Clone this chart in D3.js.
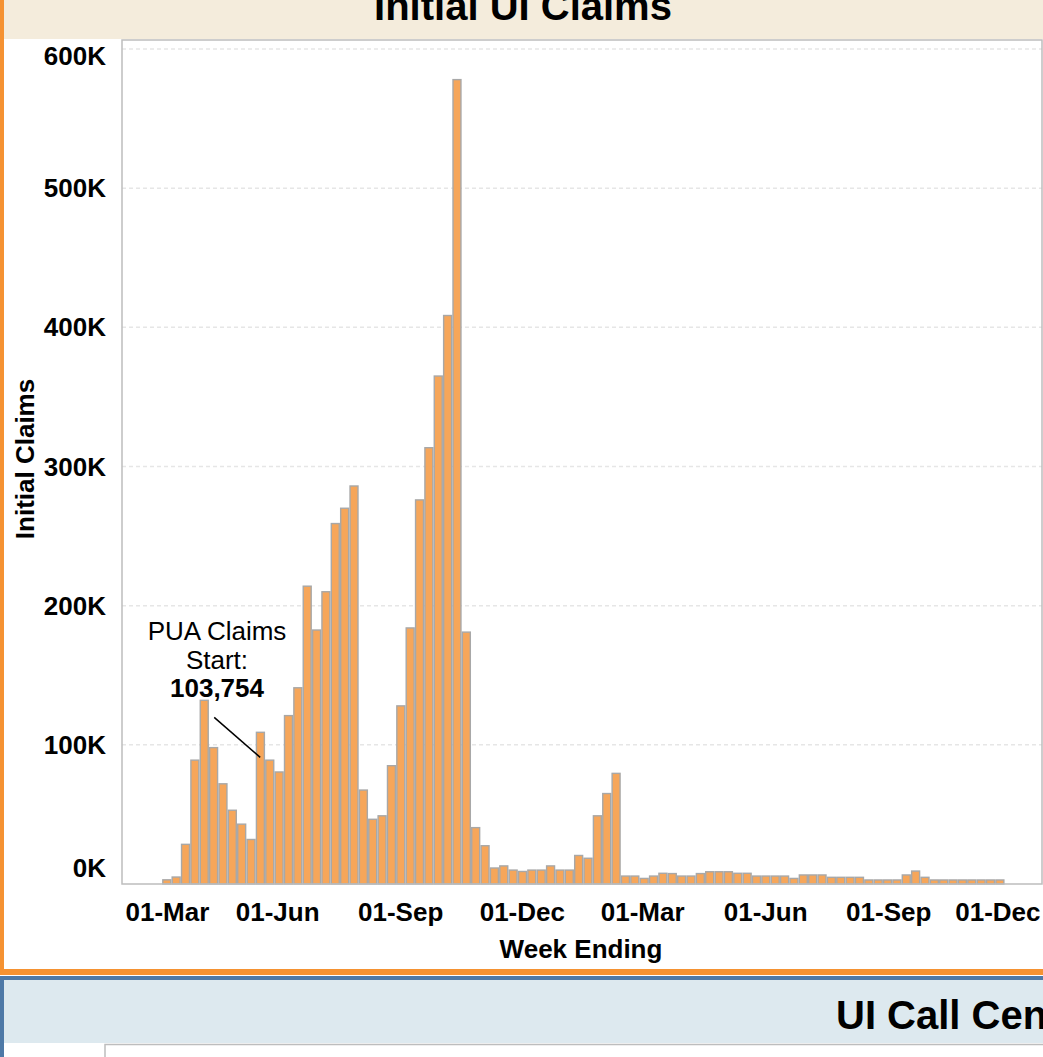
<!DOCTYPE html>
<html>
<head>
<meta charset="utf-8">
<script src="https://cdn.jsdelivr.net/npm/d3@7"></script>
<style>
  body { margin: 0; background: #fff; overflow: hidden; }
  text { font-family: "Liberation Sans", Arial, sans-serif; }
</style>
</head>
<body>
<div id="chart"></div>
<script>
// weeks (week ending saturday) from 07-Mar-2020 to 20-Nov-2021
const weekEnding = d3.timeSaturday.range(new Date(2020, 2, 7), new Date(2021, 10, 21));

// initial UI claims per week
const claims = [
  3000, 5000, 28500, 89000, 132000, 98000, 72000, 53000, 43000, 32000,
  109000, 89000, 80500, 121000, 141000, 214000, 182500, 210000, 259000, 270000,
  286000, 67500, 46500, 49000, 85000, 128000, 184000, 276000, 313500, 365000,
  408500, 578000, 181000, 40500, 27500, 11500, 13000, 10000, 9000, 10000,
  10000, 13000, 10000, 10000, 20500, 18500, 49000, 65000, 79500, 5700,
  5700, 4000, 5700, 7700, 7500, 5700, 5700, 7500, 8800, 8800,
  8800, 7700, 7700, 5700, 5700, 5700, 5700, 4000, 6500, 6500,
  6500, 4800, 4800, 4800, 4800, 2900, 2900, 2900, 2900, 6500,
  9300, 4800, 2900, 2900, 2900, 2900, 2900, 2900, 2900, 2900
];

const yTicks = [0, 100000, 200000, 300000, 400000, 500000, 600000];
const xTicks = [
  new Date(2020, 2, 1), new Date(2020, 5, 1), new Date(2020, 8, 1), new Date(2020, 11, 1),
  new Date(2021, 2, 1), new Date(2021, 5, 1), new Date(2021, 8, 1), new Date(2021, 11, 1)
];
const xDomain = [new Date(2020, 1, 6), new Date(2021, 11, 25)];

// annotation: PUA claims start
const puaLines = ["PUA Claims", "Start:", "103,754"];
const puaIndex = 10;
const puaValue = 91000;

const data = weekEnding.map((d, i) => ({ date: d, value: claims[i] }));

const width = 1043;
const height = 1057;
const plot = { left: 122, top: 40, right: 1042, bottom: 884 };
const labelSize = "26px";

const svg = d3
  .select("#chart")
  .append("svg")
  .attr("width", width)
  .attr("height", height);

//------------------panel backgrounds------------------
svg.append("rect").attr("x", 0).attr("y", 0).attr("width", width).attr("height", 975).attr("fill", "#f59232");
svg.append("rect").attr("x", 4).attr("y", 0).attr("width", width - 4).attr("height", 969).attr("fill", "#ffffff");
svg.append("rect").attr("x", 4).attr("y", 0).attr("width", width - 4).attr("height", 39).attr("fill", "#f4ecdc");

svg
  .append("text")
  .text("Initial UI Claims")
  .attr("x", 523)
  .attr("y", 20)
  .attr("text-anchor", "middle")
  .style("font-size", "40px")
  .style("font-weight", "bold");

// second panel, cut off at the bottom of the picture
svg.append("rect").attr("x", 0).attr("y", 976).attr("width", width).attr("height", 81).attr("fill", "#4e79a7");
svg.append("rect").attr("x", 4).attr("y", 980).attr("width", width - 4).attr("height", 77).attr("fill", "#ffffff");
svg.append("rect").attr("x", 4).attr("y", 980).attr("width", width - 4).attr("height", 63).attr("fill", "#dde9ef");
svg
  .append("text")
  .text("UI Call Center Volume")
  .attr("x", 836)
  .attr("y", 1029)
  .style("font-size", "40px")
  .style("font-weight", "bold");
svg
  .append("path")
  .attr("d", "M105,1057V1044.5H1043")
  .attr("fill", "none")
  .attr("stroke", "#bdbdbd")
  .attr("stroke-width", 1.5);

//------------------scales------------------
const x = d3.scaleTime().domain(xDomain).range([plot.left, plot.right]);
const y = d3.scaleLinear().domain([0, 600000]).range([plot.bottom, 49]);

// gridlines
svg
  .append("g")
  .attr("class", "grid")
  .selectAll("line")
  .data(yTicks.filter((d) => d > 0))
  .enter()
  .append("line")
  .attr("x1", plot.left)
  .attr("x2", plot.right)
  .attr("y1", (d) => y(d))
  .attr("y2", (d) => y(d))
  .attr("stroke", "#e6e6e6")
  .attr("stroke-width", 1.5)
  .attr("stroke-dasharray", "4,3");

//------------------bars------------------
svg
  .append("g")
  .attr("class", "bars")
  .selectAll("rect")
  .data(data)
  .enter()
  .append("rect")
  .attr("x", (d) => x(d.date) + 0.7)
  .attr("width", (d) => x(d3.timeDay.offset(d.date, 7)) - x(d.date) - 1.4)
  .attr("y", (d) => y(d.value))
  .attr("height", (d) => y(0) - y(d.value))
  .attr("fill", "#f6a65a")
  .attr("stroke", "#a8a8a8")
  .attr("stroke-width", 1.4);

// plot frame
svg
  .append("rect")
  .attr("x", plot.left)
  .attr("y", plot.top)
  .attr("width", plot.right - plot.left)
  .attr("height", plot.bottom - plot.top)
  .attr("fill", "none")
  .attr("stroke", "#bdbdbd")
  .attr("stroke-width", 1.5);

//------------------y axis------------------
// end labels are pushed inside the frame like tableau does
svg
  .append("g")
  .attr("class", "y axis")
  .selectAll("text")
  .data(yTicks)
  .enter()
  .append("text")
  .text((d) => d / 1000 + "K")
  .attr("x", 106)
  .attr("y", (d) => Math.min(868, Math.max(56, y(d))))
  .attr("dy", "0.35em")
  .attr("text-anchor", "end")
  .style("font-size", labelSize)
  .style("font-weight", "bold");

svg
  .append("text")
  .text("Initial Claims")
  .attr("transform", "translate(34,459) rotate(-90)")
  .attr("text-anchor", "middle")
  .style("font-size", labelSize)
  .style("font-weight", "bold");

//------------------x axis------------------
const xAxis = svg
  .append("g")
  .attr("class", "x axis")
  .attr("transform", "translate(0," + plot.bottom + ")")
  .call(d3.axisBottom(x).tickValues(xTicks).tickFormat(d3.timeFormat("%d-%b")).tickSize(0).tickPadding(19));
xAxis.select(".domain").remove();
xAxis
  .selectAll("text")
  .attr("fill", "#000")
  .style("font-family", '"Liberation Sans", Arial, sans-serif')
  .style("font-size", labelSize)
  .style("font-weight", "bold");
// keep first and last labels inside the frame
xAxis.selectAll(".tick").each(function (d) {
  const t = d3.select(this).select("text");
  const w = t.node().getComputedTextLength();
  const cx = x(d);
  let shift = 0;
  if (cx - w / 2 < plot.left + 3) shift = plot.left + 3 - (cx - w / 2);
  if (cx + w / 2 > plot.right - 2) shift = plot.right - 2 - (cx + w / 2);
  t.attr("x", shift);
});

svg
  .append("text")
  .text("Week Ending")
  .attr("x", 581)
  .attr("y", 958)
  .attr("text-anchor", "middle")
  .style("font-size", labelSize)
  .style("font-weight", "bold");

//------------------annotation------------------
const ax = x(weekEnding[puaIndex]) + 4.5;
const ay = y(puaValue);
svg
  .append("line")
  .attr("x1", ax - 46)
  .attr("y1", ay - 40)
  .attr("x2", ax)
  .attr("y2", ay)
  .attr("stroke", "#000")
  .attr("stroke-width", 1.5);

svg
  .append("g")
  .attr("class", "annotation")
  .selectAll("text")
  .data(puaLines)
  .enter()
  .append("text")
  .text((d) => d)
  .attr("x", 217)
  .attr("y", (d, i) => 640 + i * 28.5)
  .attr("text-anchor", "middle")
  .style("font-size", labelSize)
  .style("font-weight", (d, i) => (i === 2 ? "bold" : "normal"));
</script>
</body>
</html>
